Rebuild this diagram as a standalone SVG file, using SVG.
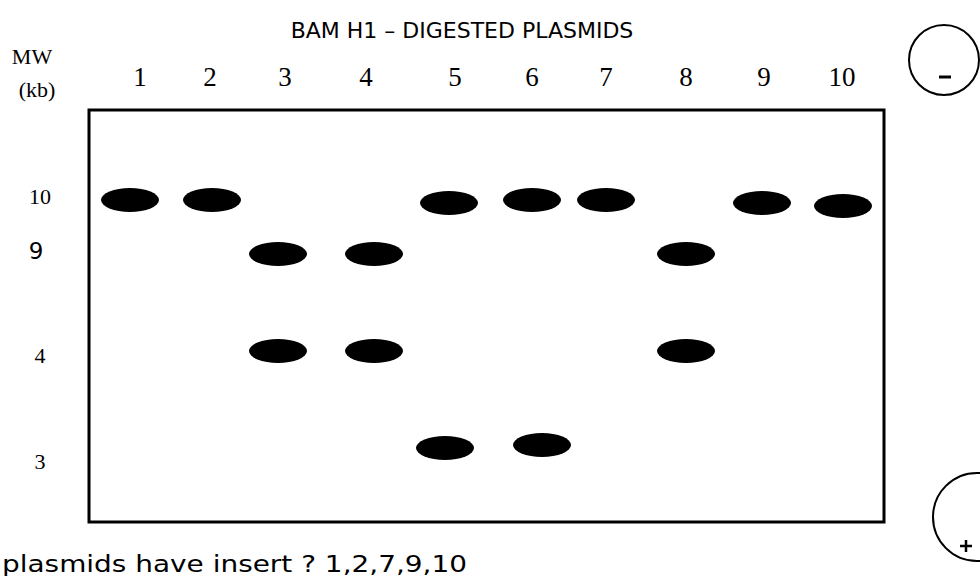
<svg xmlns="http://www.w3.org/2000/svg" width="980" height="576" viewBox="0 0 980 576">
<style>
.num{font-family:"Liberation Serif","DejaVu Serif",serif;font-size:27px;fill:#000;text-anchor:middle}
.lbl{font-family:"Liberation Serif","DejaVu Serif",serif;font-size:22px;fill:#000;text-anchor:middle}
.sans{font-family:"DejaVu Sans","Liberation Sans",sans-serif;fill:#000}
.band{fill:#000}
</style>
<rect width="980" height="576" fill="#fff"/>
<text class="sans" x="462" y="38" font-size="22" text-anchor="middle">BAM H1 – DIGESTED PLASMIDS</text>
<g id="mw-label">
<text class="lbl" x="32" y="64">MW</text>
<text class="lbl" x="37" y="97">(kb)</text>
</g>
<g id="lane-numbers">
<text class="num" x="140" y="86">1</text>
<text class="num" x="210" y="86">2</text>
<text class="num" x="285" y="86">3</text>
<text class="num" x="366" y="86">4</text>
<text class="num" x="455" y="86">5</text>
<text class="num" x="532" y="86">6</text>
<text class="num" x="606" y="86">7</text>
<text class="num" x="686" y="86">8</text>
<text class="num" x="764" y="86">9</text>
<text class="num" x="842" y="86">10</text>
</g>
<g id="ladder">
<text class="lbl" x="40" y="204">10</text>
<text class="sans" x="36" y="259" font-size="23" text-anchor="middle">9</text>
<text class="lbl" x="40" y="363">4</text>
<text class="lbl" x="40" y="469">3</text>
</g>
<g id="gel">
<rect x="89" y="110" width="795" height="412" fill="none" stroke="#000" stroke-width="3"/>
</g>
<g id="bands">
<ellipse class="band" cx="130" cy="200" rx="29" ry="12"/>
<ellipse class="band" cx="212" cy="200" rx="29" ry="12"/>
<ellipse class="band" cx="278" cy="254" rx="29" ry="12"/>
<ellipse class="band" cx="278" cy="351" rx="29" ry="12"/>
<ellipse class="band" cx="374" cy="254" rx="29" ry="12"/>
<ellipse class="band" cx="374" cy="351" rx="29" ry="12"/>
<ellipse class="band" cx="449" cy="203" rx="29" ry="12"/>
<ellipse class="band" cx="445" cy="448" rx="29" ry="12"/>
<ellipse class="band" cx="532" cy="200" rx="29" ry="12"/>
<ellipse class="band" cx="542" cy="445" rx="29" ry="12"/>
<ellipse class="band" cx="606" cy="200" rx="29" ry="12"/>
<ellipse class="band" cx="686" cy="254" rx="29" ry="12"/>
<ellipse class="band" cx="686" cy="351" rx="29" ry="12"/>
<ellipse class="band" cx="762" cy="203" rx="29" ry="12"/>
<ellipse class="band" cx="843" cy="206" rx="29" ry="12"/>
</g>
<g id="cathode">
<circle cx="944" cy="60" r="35" fill="none" stroke="#000" stroke-width="2"/>
<line x1="939" y1="77" x2="951" y2="77" stroke="#000" stroke-width="3"/>
</g>
<g id="anode">
<circle cx="977" cy="517" r="44" fill="none" stroke="#000" stroke-width="2"/>
<line x1="960" y1="546" x2="972" y2="546" stroke="#000" stroke-width="2.5"/>
<line x1="966" y1="540" x2="966" y2="552" stroke="#000" stroke-width="2.5"/>
</g>
<text class="sans" x="2" y="572" font-size="23" textLength="465" lengthAdjust="spacingAndGlyphs">plasmids have insert ? 1,2,7,9,10</text>
</svg>
